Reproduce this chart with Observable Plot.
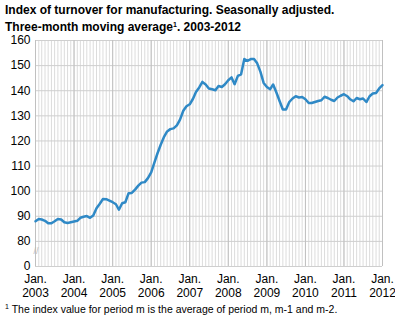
<!DOCTYPE html>
<html>
<head>
<meta charset="utf-8">
<script src="https://cdn.jsdelivr.net/npm/d3@7"></script>
<script src="https://cdn.jsdelivr.net/npm/@observablehq/plot@0.6"></script>
<style>
  body { margin: 0; background: #fff; font-family: "Liberation Sans", Arial, sans-serif; }
  #wrap { position: relative; width: 395px; height: 323px; overflow: hidden; }
  #chart { position: absolute; left: 0; top: 30px; }
  .title { position: absolute; left: 5px; font-size: 12px; font-weight: bold; line-height: 13px; color: #000; z-index: 2; white-space: nowrap; }
  #t1 { top: 4px; }
  #t2 { top: 21px; }
  #note { position: absolute; left: 5px; top: 303px; font-size: 10.5px; line-height: 12px; color: #000; }
  sup { font-size: 7px; vertical-align: 4px; line-height: 0; }
</style>
</head>
<body>
<div id="wrap">
  <div id="chart"></div>
  <div class="title" id="t1">Index of turnover for manufacturing. Seasonally adjusted.</div>
  <div class="title" id="t2">Three-month moving average<sup>1</sup>. 2003-2012</div>
  <div id="note"><sup>1</sup> The index value for period m is the average of period m, m-1 and m-2.</div>
</div>
<script>
// Monthly index values, Jan 2003 – Jan 2012
const startYear = 2003;
const values = [
  88.0, 88.9, 88.7, 88.2, 87.2, 87.2, 88.0, 88.9, 88.7, 87.6, 87.3, 87.6,   // 2003
  87.9, 88.2, 89.4, 89.8, 90.1, 89.4, 90.3, 93.2, 95.0, 96.9, 96.8, 96.2,   // 2004
  95.6, 94.8, 92.6, 95.2, 95.6, 99.2, 99.3, 100.6, 102.2, 103.4, 103.6, 105.2, // 2005
  107.5, 111.5, 115.0, 118.5, 121.5, 123.8, 124.7, 125.0, 126.2, 128.5, 132.0, 133.8, // 2006
  134.6, 136.8, 139.5, 141.3, 143.5, 142.5, 140.9, 140.6, 140.2, 141.9, 141.5, 142.6, // 2007
  144.2, 145.3, 142.6, 145.9, 146.5, 152.6, 151.9, 152.6, 152.6, 150.9, 147.5, 143.1, // 2008
  141.5, 140.6, 142.5, 139.3, 135.9, 132.5, 132.5, 135.5, 136.9, 137.8, 137.3, 137.5, // 2009
  136.6, 135.1, 135.1, 135.5, 135.9, 136.2, 137.6, 137.1, 136.4, 135.9, 137.3, 138.0, // 2010
  138.6, 137.8, 136.6, 135.8, 137.1, 136.6, 136.9, 135.5, 137.8, 138.9, 139.1, 140.9, // 2011
  142.2 // Jan 2012
];
const yTicks = [70, 80, 90, 100, 110, 120, 130, 140, 150, 160];
const yTickLabels = ["0", "80", "90", "100", "110", "120", "130", "140", "150", "160"];
const yearTicks = [2003, 2004, 2005, 2006, 2007, 2008, 2009, 2010, 2011, 2012];

const data = values.map((v, i) => ({date: new Date(Date.UTC(startYear, i, 1)), value: v}));
const x0 = new Date(Date.UTC(2003, 0, 1)), x1 = new Date(Date.UTC(2012, 0, 1));
const months = d3.utcMonths(x0, d3.utcMonth.offset(x1, 1));
const years = yearTicks.map(y => new Date(Date.UTC(y, 0, 1)));

const chart = Plot.plot({
  width: 395,
  height: 272,
  marginLeft: 35,
  marginRight: 13,
  marginTop: 10,
  marginBottom: 36,
  style: {fontFamily: "'Liberation Sans', Arial, sans-serif", fontSize: "12px", color: "#000", background: "transparent", overflow: "visible"},
  x: {type: "utc", domain: [x0, x1], label: null},
  y: {domain: [70, 160], label: null},
  marks: [
    Plot.ruleX(months, {stroke: "#dcdcdc", strokeWidth: 1}),
    Plot.ruleY(yTicks, {stroke: "#cfcfcf", strokeWidth: 1}),
    Plot.ruleX(years, {stroke: "#c0c0c0", strokeWidth: 1}),
    Plot.axisY(yTicks, {tickSize: 0, tickPadding: 5, tickFormat: d => yTickLabels[yTicks.indexOf(d)], fontSize: 12, label: null}),
    Plot.axisX(years, {tickSize: 0, tickPadding: 7, tickFormat: d => "Jan.\n" + d.getUTCFullYear(), fontSize: 12, lineHeight: 1.15, label: null}),
    Plot.text(["//"], {frameAnchor: "bottom-left", dx: -2, dy: -13, fill: "#bbbbbb", fontSize: 9}),
    Plot.line(data, {x: "date", y: "value", stroke: "#2f89c6", strokeWidth: 2.5, curve: "linear"})
  ]
});
document.getElementById("chart").appendChild(chart);
</script>
</body>
</html>
